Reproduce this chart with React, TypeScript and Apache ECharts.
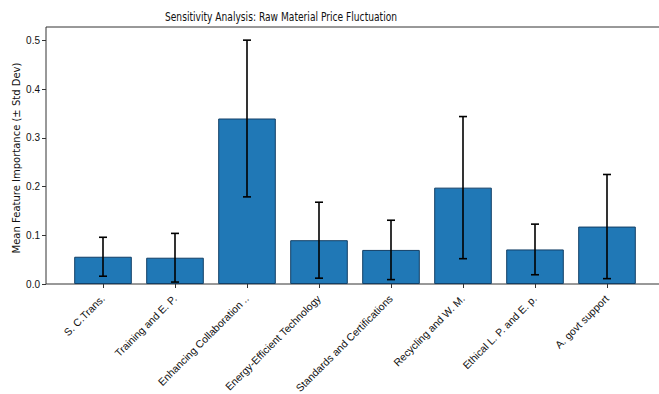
import React, { useEffect, useRef } from "react";
import * as echarts from "echarts";

const categories = [
  "S. C.Trans.",
  "Training and E. P.",
  "Enhancing Collaboration ..",
  "Energy-Efficient Technology",
  "Standards and Certifications",
  "Recycling and W. M.",
  "Ethical L. P. and E. p.",
  "A. govt support",
];
const means = [0.056, 0.054, 0.34, 0.09, 0.07, 0.198, 0.071, 0.118];
const stds = [0.04, 0.05, 0.161, 0.078, 0.061, 0.146, 0.052, 0.107];
const yTicks = [0, 0.1, 0.2, 0.3, 0.4, 0.5];
const titleText = "Sensitivity Analysis: Raw Material Price Fluctuation";
const yName = "Mean Feature Importance (± Std Dev)";

const FONT = "'DejaVu Sans', sans-serif";
const LFONT = "'Liberation Sans', Arial, sans-serif";

export default function App() {
  const ref = useRef<HTMLDivElement>(null);
  useEffect(() => {
    document.body.style.margin = "0";
    const chart = echarts.init(ref.current!, null, { renderer: "svg" });
    const yMax = 0.528;
    const errData = means.map((m, i) => [i, m - stds[i], m + stds[i]]);
    chart.setOption({
      animation: false,
      backgroundColor: "#ffffff",
      grid: [
        { left: 46, top: 27, right: -5, bottom: 110, show: true, borderColor: "#333", borderWidth: 1, backgroundColor: "transparent", outerBoundsMode: "none", containLabel: false },
        { left: 67, top: 27, right: 16, bottom: 110, outerBoundsMode: "none", containLabel: false },
      ],
      xAxis: [
        { type: "value", gridIndex: 0, min: 0, max: 1, show: false },
        {
          type: "category",
          gridIndex: 1,
          data: categories,
          axisLine: { show: false },
          axisTick: { show: true, alignWithLabel: true, length: 4, lineStyle: { color: "#333" } },
          axisLabel: { rotate: 45, interval: 0, fontSize: 10.5, color: "#111", fontFamily: LFONT, margin: 13 },
        },
      ],
      yAxis: [
        {
          type: "value",
          gridIndex: 0,
          min: 0,
          max: yMax,
          axisLine: { show: false },
          splitLine: { show: false },
          axisTick: { show: true, length: 4, lineStyle: { color: "#333" }, customValues: yTicks },
          axisLabel: { fontSize: 10, color: "#111", fontFamily: LFONT, margin: 6, customValues: yTicks, formatter: (v: number) => v.toFixed(1) },
        },
        { type: "value", gridIndex: 1, min: 0, max: yMax, show: false },
      ],
      series: [
        {
          type: "bar",
          xAxisIndex: 1,
          yAxisIndex: 1,
          data: means,
          barWidth: "80%",
          itemStyle: { color: "#2078b6", borderColor: "#123f66", borderWidth: 1 },
        },
        {
          type: "custom",
          xAxisIndex: 1,
          yAxisIndex: 1,
          data: errData,
          z: 10,
          renderItem: (params: any, api: any) => {
            const x = api.value(0);
            const lo = api.coord([x, api.value(1)]);
            const hi = api.coord([x, api.value(2)]);
            const cap = 4;
            const st = { stroke: "#000", lineWidth: 1.6 };
            return {
              type: "group",
              children: [
                { type: "line", shape: { x1: lo[0], y1: lo[1], x2: hi[0], y2: hi[1] }, style: st },
                { type: "line", shape: { x1: lo[0] - cap, y1: lo[1], x2: lo[0] + cap, y2: lo[1] }, style: st },
                { type: "line", shape: { x1: hi[0] - cap, y1: hi[1], x2: hi[0] + cap, y2: hi[1] }, style: st },
              ],
            };
          },
        },
      ],
      graphic: [
        {
          type: "text",
          x: 281,
          y: 17,
          scaleX: 0.73,
          style: { text: titleText, fontSize: 12.5, fontFamily: FONT, fill: "#111", textAlign: "center", textVerticalAlign: "middle" },
        },
        {
          type: "text",
          x: 16,
          y: 158,
          rotation: Math.PI / 2,
          style: { text: yName, fontSize: 10, fontFamily: FONT, fill: "#111", textAlign: "center", textVerticalAlign: "middle" },
        },
      ],
    });
    return () => chart.dispose();
  }, []);
  return <div ref={ref} style={{ width: 659, height: 394, position: "absolute", left: 0, top: 0 }} />;
}
